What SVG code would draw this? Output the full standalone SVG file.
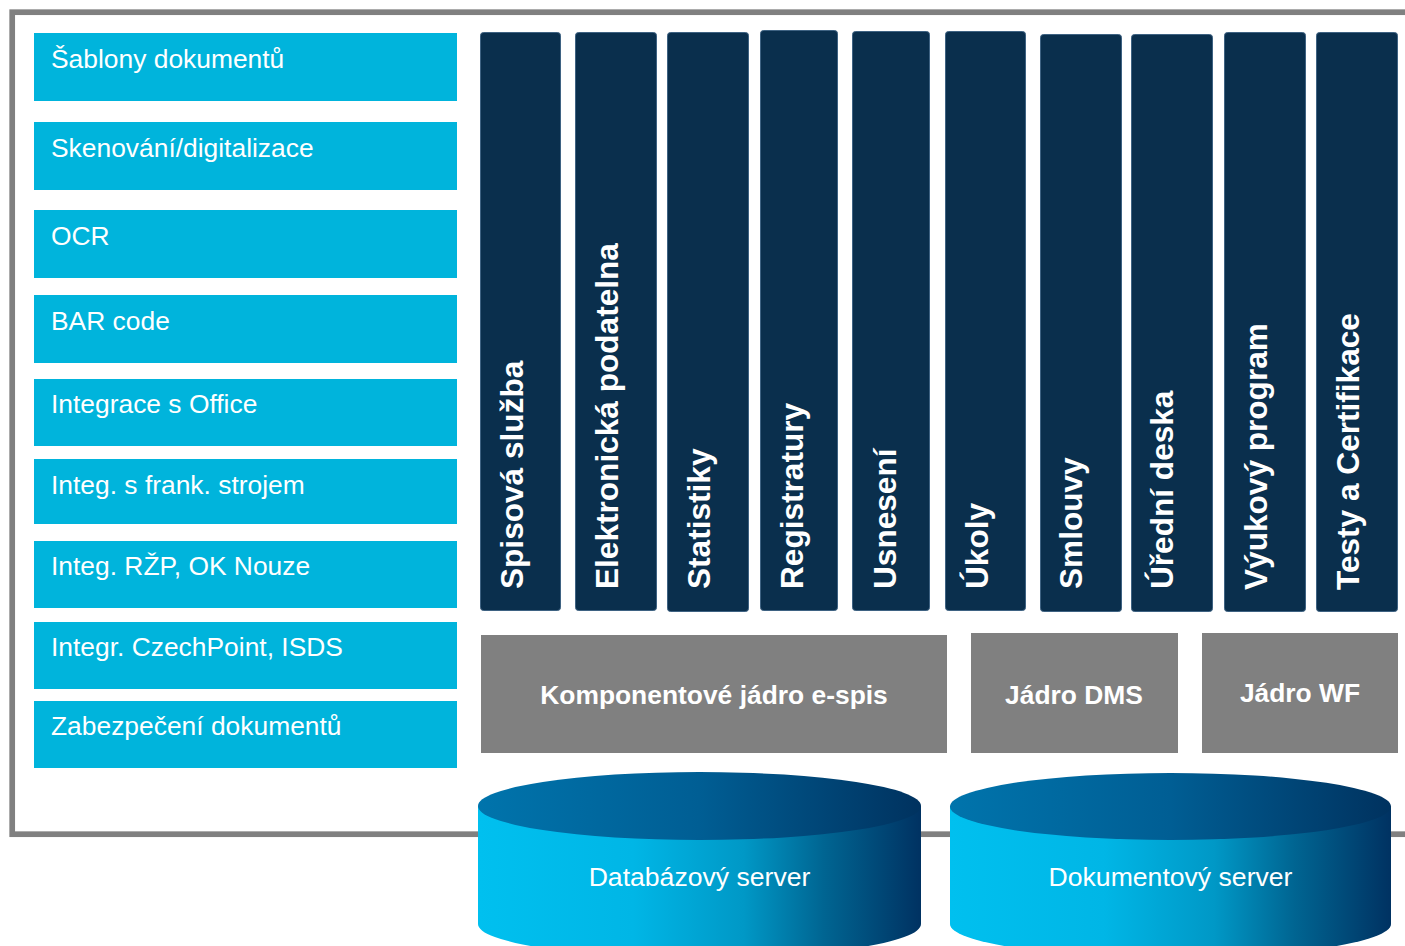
<svg xmlns="http://www.w3.org/2000/svg" width="1405" height="946" viewBox="0 0 1405 946">
<style>
.lb{fill:#00B4DC}
.lt{font-family:"Liberation Sans",Arial,sans-serif;font-size:26.4px;fill:#fff}
.col{fill:#0A2F4D;stroke:#3E6282;stroke-width:1}
.ct{font-family:"Liberation Sans",Arial,sans-serif;font-size:31.6px;font-weight:bold;fill:#fff}
.gb{fill:#808080}
.gt{font-family:"Liberation Sans",Arial,sans-serif;font-size:26.4px;font-weight:bold;fill:#fff;text-anchor:middle}
.st{font-family:"Liberation Sans",Arial,sans-serif;font-size:26.6px;fill:#fff;text-anchor:middle}
</style>
<defs>
<linearGradient id="body" x1="0" y1="0" x2="1" y2="0">
<stop offset="0" stop-color="#00C0EF"/>
<stop offset="0.35" stop-color="#00B6E6"/>
<stop offset="0.6" stop-color="#0098C6"/>
<stop offset="0.78" stop-color="#006592"/>
<stop offset="1" stop-color="#003262"/>
</linearGradient>
<linearGradient id="top" x1="0" y1="0" x2="1" y2="0">
<stop offset="0" stop-color="#0074AC"/>
<stop offset="0.5" stop-color="#005E94"/>
<stop offset="1" stop-color="#00325F"/>
</linearGradient>
</defs>
<rect width="1405" height="946" fill="#fff"/>
<rect id="frame" x="12.2" y="12.2" width="1400" height="822" fill="none" stroke="#808080" stroke-width="5.7"/>

<g id="left-modules">
<g id="m1"><rect class="lb" x="34" y="33" width="423" height="68"/><text class="lt" x="51" y="68">Šablony dokumentů</text></g>
<g id="m2"><rect class="lb" x="34" y="122" width="423" height="68"/><text class="lt" x="51" y="157">Skenování/digitalizace</text></g>
<g id="m3"><rect class="lb" x="34" y="210" width="423" height="68"/><text class="lt" x="51" y="245">OCR</text></g>
<g id="m4"><rect class="lb" x="34" y="295" width="423" height="68"/><text class="lt" x="51" y="330">BAR code</text></g>
<g id="m5"><rect class="lb" x="34" y="379" width="423" height="67"/><text class="lt" x="51" y="413">Integrace s Office</text></g>
<g id="m6"><rect class="lb" x="34" y="459" width="423" height="65"/><text class="lt" x="51" y="494">Integ. s frank. strojem</text></g>
<g id="m7"><rect class="lb" x="34" y="541" width="423" height="67"/><text class="lt" x="51" y="575">Integ. RŽP, OK Nouze</text></g>
<g id="m8"><rect class="lb" x="34" y="622" width="423" height="67"/><text class="lt" x="51" y="656">Integr. CzechPoint, ISDS</text></g>
<g id="m9"><rect class="lb" x="34" y="701" width="423" height="67"/><text class="lt" x="51" y="735">Zabezpečení dokumentů</text></g>
</g>

<g id="columns">
<g id="c1"><rect class="col" x="480.5" y="32.5" width="80" height="578" rx="3"/><text class="ct" transform="translate(523,589) rotate(-90)">Spisová služba</text></g>
<g id="c2"><rect class="col" x="575.5" y="32.5" width="81" height="578" rx="3"/><text class="ct" transform="translate(618,589) rotate(-90)">Elektronická podatelna</text></g>
<g id="c3"><rect class="col" x="667.5" y="32.5" width="81" height="579" rx="3"/><text class="ct" transform="translate(710,589) rotate(-90)">Statistiky</text></g>
<g id="c4"><rect class="col" x="760.5" y="30.5" width="77" height="580" rx="3"/><text class="ct" transform="translate(803,589) rotate(-90)">Registratury</text></g>
<g id="c5"><rect class="col" x="852.5" y="31.5" width="77" height="579" rx="3"/><text class="ct" transform="translate(896,589) rotate(-90)">Usnesení</text></g>
<g id="c6"><rect class="col" x="945.5" y="31.5" width="80" height="579" rx="3"/><text class="ct" transform="translate(988,589) rotate(-90)">Úkoly</text></g>
<g id="c7"><rect class="col" x="1040.5" y="34.5" width="81" height="577" rx="3"/><text class="ct" transform="translate(1082,589) rotate(-90)">Smlouvy</text></g>
<g id="c8"><rect class="col" x="1131.5" y="34.5" width="81" height="577" rx="3"/><text class="ct" transform="translate(1173,589) rotate(-90)">Úřední deska</text></g>
<g id="c9"><rect class="col" x="1224.5" y="32.5" width="81" height="579" rx="3"/><text class="ct" transform="translate(1267,590) rotate(-90)">Výukový program</text></g>
<g id="c10"><rect class="col" x="1316.5" y="32.5" width="81" height="579" rx="3"/><text class="ct" transform="translate(1359,590) rotate(-90)">Testy a Certifikace</text></g>
</g>

<g id="cores">
<g id="core-espis"><rect class="gb" x="481" y="635" width="466" height="118"/><text class="gt" x="714" y="704">Komponentové jádro e-spis</text></g>
<g id="core-dms"><rect class="gb" x="971" y="633" width="207" height="120"/><text class="gt" x="1074" y="704">Jádro DMS</text></g>
<g id="core-wf"><rect class="gb" x="1202" y="633" width="196" height="120"/><text class="gt" x="1300" y="702">Jádro WF</text></g>
</g>

<g id="servers">
<g id="db-server">
<path d="M478,806 L478,924 A221.5,34 0 0 0 921,924 L921,806 Z" fill="url(#body)"/>
<ellipse cx="699.5" cy="806" rx="221.5" ry="34" fill="url(#top)"/>
<text class="st" x="699.5" y="886">Databázový server</text>
</g>
<g id="doc-server">
<path d="M950,806.5 L950,924 A220.5,33.5 0 0 0 1391,924 L1391,806.5 Z" fill="url(#body)"/>
<ellipse cx="1170.5" cy="806.5" rx="220.5" ry="33.5" fill="url(#top)"/>
<text class="st" x="1170.5" y="886">Dokumentový server</text>
</g>
</g>

<g id="connectors"/>
</svg>
